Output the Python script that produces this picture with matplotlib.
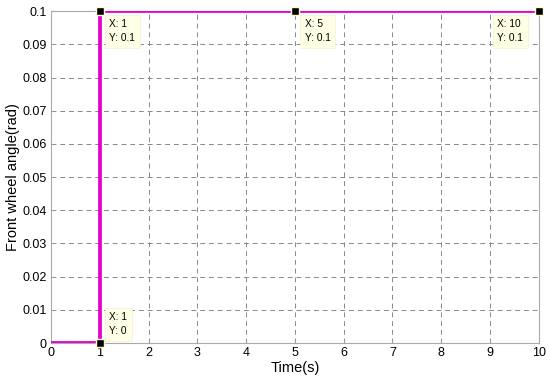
import matplotlib
matplotlib.use('Agg')
import matplotlib.pyplot as plt

plt.rcParams['font.family'] = ['Liberation Sans', 'DejaVu Sans']

# step input data
time = [0, 1, 1, 10]
angle = [0, 0, 0.1, 0.1]

# data tips
tip_x = [1, 1, 5, 10]
tip_y = [0, 0.1, 0.1, 0.1]
tip_text = ['X: 1\nY: 0', 'X: 1\nY: 0.1', 'X: 5\nY: 0.1', 'X: 10\nY: 0.1']
tip_offset = [(7, 5), (7, -6), (7, -6), (-30, -6)]
tip_va = ['bottom', 'top', 'top', 'top']

fig = plt.figure(figsize=(5.5, 3.85), dpi=100)
ax = fig.add_axes([0.0927, 0.109, 0.887, 0.862])

ax.plot(time, angle, color='#e600d0', linewidth=2.7, zorder=3)

for x, y, t, off, va in zip(tip_x, tip_y, tip_text, tip_offset, tip_va):
    ax.plot(x, y, marker='s', markersize=6, color='black',
            markeredgecolor='#fffbd0', markeredgewidth=1, clip_on=False, zorder=5)
    ax.annotate(t, (x, y), xytext=off, textcoords='offset points',
                fontsize=7.3, va=va, ha='left', linespacing=1.45,
                bbox=dict(boxstyle='square,pad=0.45', fc='#ffffe6', ec='#f2f0d8', lw=0.5),
                zorder=6, annotation_clip=False)

ax.set_xlim(0, 10)
ax.set_ylim(0, 0.1)
ax.set_xticks(range(0, 11))
ax.set_yticks([i / 100 for i in range(11)])
ax.set_yticklabels(['0', '0.01', '0.02', '0.03', '0.04', '0.05', '0.06',
                    '0.07', '0.08', '0.09', '0.1'])
ax.tick_params(direction='in', length=3, labelsize=9, color='#999999', pad=3)
for s in ax.spines.values():
    s.set_color('#aaaaaa')
    s.set_linewidth(0.8)

ax.grid(True, linestyle=(0, (5, 4)), color='#888888', linewidth=0.7)
ax.set_xlabel('Time(s)', fontsize=10.5, labelpad=1)
ax.set_ylabel('Front wheel angle(rad)', fontsize=10.5, labelpad=2)

fig.savefig('out.png', dpi=100)
